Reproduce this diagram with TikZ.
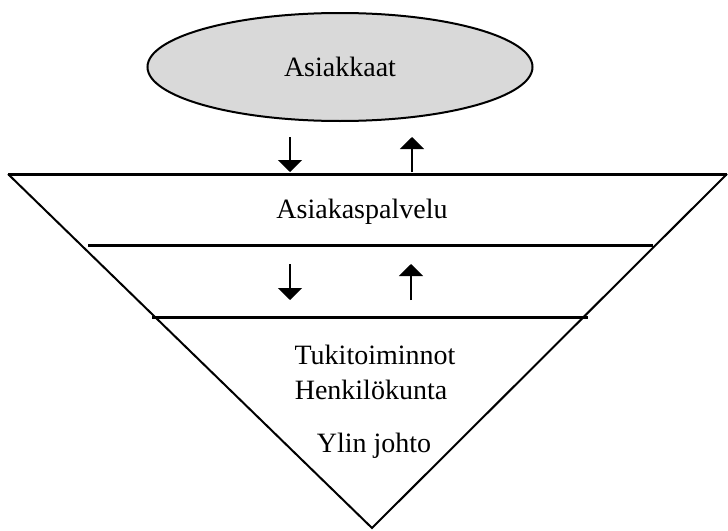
\documentclass[tikz,border=0pt]{standalone}
\usepackage{fontspec}
\setmainfont{Liberation Serif}
\usetikzlibrary{shapes.geometric,arrows.meta}
\begin{document}
\begin{tikzpicture}[
    x=0.5pt, y=-0.5pt,
    soikio/.style={ellipse, draw=black, line width=1pt, fill=black!15, minimum width=192.5pt, minimum height=54pt, inner sep=0pt},
    teksti/.style={font=\fontsize{14}{17}\selectfont, inner sep=0pt},
    kerros/.style={line width=1.5pt},
    nuoli/.style={-{Triangle[width=12pt,length=6pt]}, line width=0.8pt},
]
\useasboundingbox (0,0) rectangle (728,530);

\node (asiakkaat) [soikio, teksti] at (340,67) {Asiakkaat};

\coordinate (vasen) at (8,174);
\coordinate (oikea) at (727,174);
\coordinate (karki) at (372,528);
\draw [line width=1pt, line join=miter] (vasen) -- (karki) -- (oikea);
\draw [kerros] (vasen) -- (oikea);

\coordinate (raja1a) at (88,245);
\coordinate (raja1b) at (653,245);
\coordinate (raja2a) at (152,317);
\coordinate (raja2b) at (588,317);
\draw [kerros] (raja1a) -- (raja1b);
\draw [kerros] (raja2a) -- (raja2b);

\node (palvelu) [teksti] at (362,212) {Asiakaspalvelu};
\node (tuki) [teksti] at (375,355) {Tukitoiminnot};
\node (henkilo) [teksti] at (371,390) {Henkilökunta};
\node (johto) [teksti] at (374,446) {Ylin johto};

\coordinate (alas1a) at (290,137);
\coordinate (alas1b) at (290,172);
\coordinate (ylos1a) at (412,172);
\coordinate (ylos1b) at (412,137);
\coordinate (alas2a) at (290,264);
\coordinate (alas2b) at (290,300);
\coordinate (ylos2a) at (411,300);
\coordinate (ylos2b) at (411,264);
\draw [nuoli] (alas1a) -- (alas1b);
\draw [nuoli] (ylos1a) -- (ylos1b);
\draw [nuoli] (alas2a) -- (alas2b);
\draw [nuoli] (ylos2a) -- (ylos2b);

\end{tikzpicture}
\end{document}
